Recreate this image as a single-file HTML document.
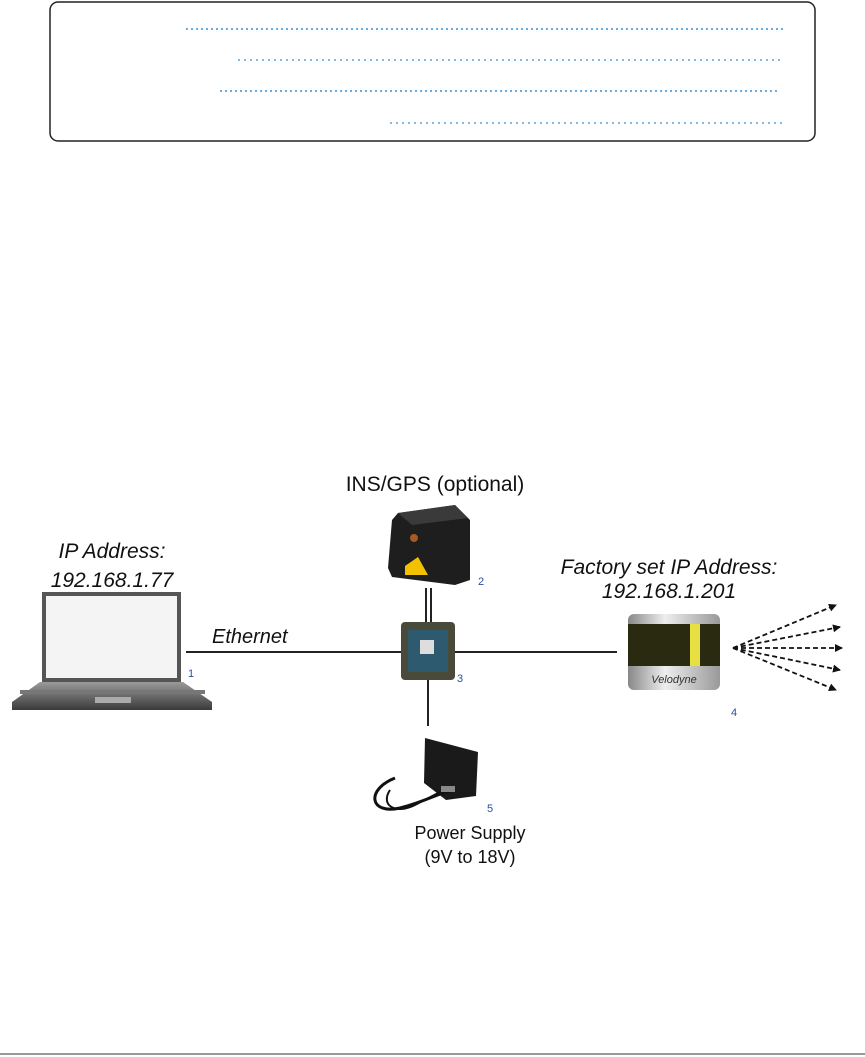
<!DOCTYPE html>
<html><head><style>
html,body{margin:0;padding:0;background:#fff;}
svg{display:block;}
text{font-family:"Liberation Sans",sans-serif;}
</style></head><body>
<svg width="865" height="1057" viewBox="0 0 865 1057" xmlns="http://www.w3.org/2000/svg">
<defs>
<marker id="ah" markerWidth="8" markerHeight="8" refX="7" refY="4" orient="auto" markerUnits="userSpaceOnUse"><path d="M0,0 L8,4 L0,8 z" fill="#111"/></marker>
<linearGradient id="lid" x1="0" x2="1"><stop offset="0" stop-color="#888"/><stop offset=".4" stop-color="#eee"/><stop offset="1" stop-color="#999"/></linearGradient>
<linearGradient id="lb" x1="0" x2="0" y1="0" y2="1"><stop offset="0" stop-color="#9a9a9a"/><stop offset="1" stop-color="#3a3a3a"/></linearGradient>
</defs>
<rect x="50" y="2" width="765" height="139" rx="8" fill="#fff" stroke="#222" stroke-width="1.5"/>
<g stroke="#3a8fd0" stroke-width="1.5">
<line x1="186" y1="29" x2="783" y2="29" stroke-dasharray="2,3"/>
<line x1="238" y1="60" x2="783" y2="60" stroke-dasharray="2,4" stroke-width="1.2"/>
<line x1="220" y1="91" x2="780" y2="91" stroke-dasharray="2,3"/>
<line x1="390" y1="123" x2="783" y2="123" stroke-dasharray="2,4" stroke-width="1.2"/>
</g>
<g stroke="#222" stroke-width="2">
<line x1="186" y1="652" x2="402" y2="652"/>
<line x1="453" y1="652" x2="617" y2="652"/>
<line x1="426" y1="588" x2="426" y2="624"/>
<line x1="431" y1="588" x2="431" y2="624"/>
<line x1="428" y1="678" x2="428" y2="726"/>
</g>
<rect x="42" y="592" width="139" height="90" fill="#555"/>
<rect x="46" y="596" width="131" height="82" fill="#f4f4f4"/>
<path d="M40,682 L183,682 L212,702 L212,710 L12,710 L12,702 Z" fill="url(#lb)"/>
<rect x="20" y="690" width="185" height="4" fill="#777"/>
<rect x="95" y="697" width="36" height="6" fill="#aaa"/>
<rect x="401" y="622" width="54" height="58" rx="4" fill="#4a4a3a"/>
<rect x="408" y="630" width="40" height="42" fill="#2d5a6e"/>
<rect x="420" y="640" width="14" height="14" fill="#ddd"/>
<path d="M398,513 L455,505 L470,520 L470,580 L455,585 L392,577 L388,568 L392,520 Z" fill="#1e1e1e"/>
<path d="M398,513 L455,505 L468,518 L412,525 Z" fill="#3a3a3a"/>
<path d="M405,566 L418,557 L428,575 L405,575 Z" fill="#f2c200"/>
<circle cx="414" cy="538" r="4" fill="#a85a20"/>
<path d="M425,738 L478,752 L476,796 L446,800 L424,783 Z" fill="#1a1a1a"/>
<path d="M395,778 C365,790 370,815 400,808 C430,800 440,792 455,790" fill="none" stroke="#111" stroke-width="3"/>
<path d="M390,790 C380,805 395,815 415,805 L440,792" fill="none" stroke="#111" stroke-width="2"/>
<rect x="441" y="786" width="14" height="6" fill="#888"/>
<rect x="628" y="614" width="92" height="76" rx="6" fill="url(#lid)"/>
<rect x="628" y="624" width="92" height="42" fill="#2a2a10"/>
<rect x="690" y="624" width="10" height="42" fill="#e8e040"/>
<text x="674" y="683" font-size="11" text-anchor="middle" fill="#333" font-style="italic">Velodyne</text>
<g stroke="#111" stroke-width="1.8" stroke-dasharray="5,3" marker-end="url(#ah)">
<line x1="733" y1="648" x2="836" y2="605"/>
<line x1="733" y1="648" x2="840" y2="627"/>
<line x1="733" y1="648" x2="842" y2="648"/>
<line x1="733" y1="648" x2="840" y2="670"/>
<line x1="733" y1="648" x2="836" y2="690"/>
</g>
<g font-size="21" fill="#111">
<text x="112" y="558" text-anchor="middle" font-style="italic">IP Address:</text>
<text x="112" y="587" text-anchor="middle" font-style="italic">192.168.1.77</text>
<text x="435" y="491" text-anchor="middle">INS/GPS (optional)</text>
<text x="669" y="574" text-anchor="middle" font-style="italic">Factory set IP Address:</text>
<text x="669" y="598" text-anchor="middle" font-style="italic">192.168.1.201</text>
<text x="212" y="643" font-style="italic" font-size="20">Ethernet</text>
</g>
<g font-size="18" fill="#111" text-anchor="middle">
<text x="470" y="839">Power Supply</text>
<text x="470" y="863">(9V to 18V)</text>
</g>
<g font-size="11" fill="#2a4fa0">
<text x="188" y="677">1</text>
<text x="478" y="585">2</text>
<text x="457" y="682">3</text>
<text x="731" y="716">4</text>
<text x="487" y="812">5</text>
</g>
<line x1="0" y1="1054" x2="865" y2="1054" stroke="#999" stroke-width="2"/>
</svg>
</body></html>
